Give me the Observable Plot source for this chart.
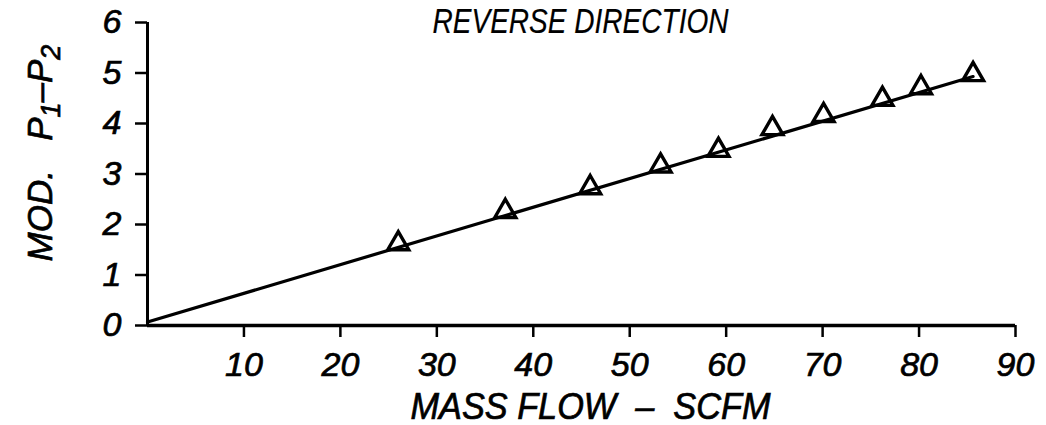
<!DOCTYPE html>
<html><head><meta charset="utf-8">
<script src="https://cdn.jsdelivr.net/npm/d3@7"></script>
<script src="https://cdn.jsdelivr.net/npm/@observablehq/plot@0.6"></script>
<style>
html,body{margin:0;padding:0;background:#fff;}
svg text{stroke:#000;stroke-width:0.7px;}
svg text.thin{stroke-width:0.2px;}
</style>
</head><body><div id="chart"></div>
<script>
// Measured points (mass flow SCFM, mod. P1-P2)
const flow = [26.0, 37.1, 45.9, 53.2, 59.2, 64.8, 70.1, 76.2, 80.2, 85.6];
const dp   = [1.62, 2.26, 2.73, 3.16, 3.47, 3.90, 4.16, 4.48, 4.71, 4.97];
// Fitted straight line drawn through the data
const fitFlow = [0, 85.6];
const fitDp   = [0.07, 4.93];
// Axis ticks
const xTicks = [10, 20, 30, 40, 50, 60, 70, 80, 90];
const yTicks = [0, 1, 2, 3, 4, 5, 6];
// Texts
const title = "REVERSE DIRECTION";
const xLabel = "MASS FLOW  \u2013  SCFM";

const points = flow.map((f, i) => ({flow: f, dp: dp[i]}));
const fit = fitFlow.map((f, i) => ({flow: f, dp: fitDp[i]}));

const FONT = "Liberation Sans, Arial, sans-serif";

const plot = Plot.plot({
  width: 1046,
  height: 425,
  marginLeft: 147,
  marginRight: 31,
  marginTop: 22,
  marginBottom: 100,
  style: {fontFamily: FONT, fontStyle: "italic", background: "#fff", color: "#000"},
  x: {domain: [0, 90]},
  y: {domain: [0, 6]},
  marks: [
    Plot.axisX({ticks: xTicks, tickSize: 12, tickPadding: 14, fontSize: 34, strokeWidth: 2.5, label: null, tickFormat: d => String(d)}),
    Plot.axisY({ticks: yTicks, tickSize: 12, tickPadding: 14, fontSize: 34, strokeWidth: 2.5, label: null, tickFormat: d => String(d)}),
    Plot.ruleY([0], {stroke: "#000", strokeWidth: 3.5}),
    Plot.ruleX([0], {stroke: "#000", strokeWidth: 3}),
    Plot.line(fit, {x: "flow", y: "dp", stroke: "#000", strokeWidth: 3.2}),
    Plot.dot(points, {x: "flow", y: "dp", symbol: "triangle", r: 7.8, stroke: "#000", strokeWidth: 3.4, fill: "none"}),
    Plot.text([title], {frameAnchor: "top", text: d => d, lineAnchor: "bottom", dx: -1, dy: 10, fontSize: 35, fill: "#000"}),
    Plot.text([xLabel], {frameAnchor: "bottom", text: d => d, lineAnchor: "bottom", dx: 9, dy: 93, fontSize: 36, fill: "#000"})
  ]
});

const svg = d3.select(plot);
// Narrow the title to the width it has in the original
svg.selectAll("text").filter(function() { return this.textContent === title; })
  .attr("textLength", 296).attr("lengthAdjust", "spacingAndGlyphs").classed("thin", true);
svg.selectAll("text").filter(function() { return this.textContent === xLabel; })
  .attr("textLength", 360).attr("lengthAdjust", "spacingAndGlyphs");

// Rotated y-axis label with subscripts
const yl = svg.append("text")
  .attr("transform", "translate(52,153) rotate(-90)")
  .attr("text-anchor", "middle")
  .attr("font-size", 35)
  .attr("font-style", "italic")
  .attr("font-family", FONT)
  .attr("fill", "#000");
yl.append("tspan").text("MOD.   P");
yl.append("tspan").attr("baseline-shift", "-28%").attr("font-size", 27).text("1");
yl.append("tspan").text("\u2013P");
yl.append("tspan").attr("baseline-shift", "-28%").attr("font-size", 27).text("2");

document.getElementById("chart").appendChild(plot);
</script>
</body></html>
